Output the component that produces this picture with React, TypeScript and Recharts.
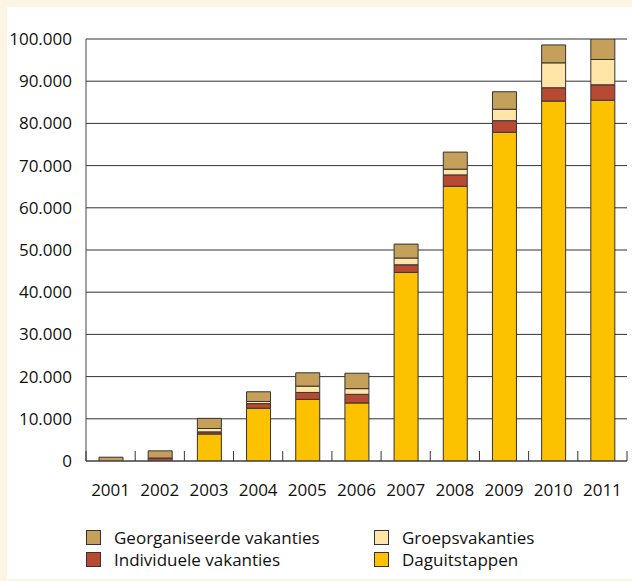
import { Bar, BarChart, CartesianGrid, XAxis, YAxis } from 'recharts';

// categories and series
const years = ['2001', '2002', '2003', '2004', '2005', '2006', '2007', '2008', '2009', '2010', '2011'];
const daguitstappen = [0, 0, 6400, 12500, 14600, 13750, 44700, 65100, 77900, 85300, 85500];
const individueel = [0, 700, 500, 1100, 1650, 2050, 1800, 2700, 2750, 3150, 3650];
const groeps = [0, 0, 800, 500, 1500, 1350, 1600, 1350, 2700, 5900, 6000];
const georganiseerd = [900, 1700, 2400, 2300, 3150, 3650, 3300, 4050, 4150, 4250, 4850];
const yTicks = [0, 10000, 20000, 30000, 40000, 50000, 60000, 70000, 80000, 90000, 100000];

const series = [
  { key: 'dag', name: 'Daguitstappen', color: '#FCC200' },
  { key: 'ind', name: 'Individuele vakanties', color: '#B84A34' },
  { key: 'groep', name: 'Groepsvakanties', color: '#FFE6A8' },
  { key: 'geo', name: 'Georganiseerde vakanties', color: '#C4A05A' },
];

const data = years.map((year, i) => ({
  year,
  dag: daguitstappen[i],
  ind: individueel[i],
  groep: groeps[i],
  geo: georganiseerd[i],
}));

const FONT = '"Open Sans", "Noto Sans", sans-serif';

// 100000 -> 100.000
const fmt = (v: number) => String(v).replace(/\B(?=(\d{3})+(?!\d))/g, '.');

const YearTick = (props: any) => {
  const { x, y, payload, index } = props;
  const off = payload && payload.offset ? payload.offset : 24.6;
  const last = index === years.length - 1;
  return (
    <g>
      <line x1={x - off} x2={x - off} y1={y} y2={y - 10} stroke="#333" strokeWidth={1} />
      {last && <line x1={x + off} x2={x + off} y1={y} y2={y - 10} stroke="#333" strokeWidth={1} />}
      <text x={x} y={y + 35} textAnchor="middle" fontSize={17} fill="#111" fontFamily={FONT}>
        {payload.value}
      </text>
    </g>
  );
};

// legend layout: two rows, two columns
const legendRows = [
  [series[3], series[2]],
  [series[1], series[0]],
];

export default function App() {
  return (
    <div
      style={{
        position: 'absolute',
        left: 0,
        top: 0,
        width: 632,
        height: 581,
        background: '#FDF5E3',
        fontFamily: FONT,
      }}
    >
      <div style={{ position: 'absolute', left: 7, top: 7, width: 625, height: 572, background: '#fff' }} />
      <div style={{ position: 'absolute', left: 0, top: 0 }}>
        <BarChart
          width={632}
          height={581}
          data={data}
          margin={{ top: 39, right: 5, bottom: 0, left: 0 }}
          barSize={24}
        >
          <CartesianGrid vertical={false} stroke="#333" strokeWidth={1} />
          <XAxis
            dataKey="year"
            height={120}
            tickSize={0}
            tickMargin={0}
            axisLine={{ stroke: '#444' }}
            tickLine={false}
            tick={<YearTick />}
            interval={0}
          />
          <YAxis
            width={86}
            domain={[0, 100000]}
            ticks={yTicks}
            allowDataOverflow
            tickFormatter={fmt}
            tickSize={0}
            tickMargin={14}
            tickLine={false}
            axisLine={{ stroke: '#444' }}
            tick={{ fontSize: 17, fill: '#111', fontFamily: FONT }}
          />
          {series.map((s) => (
            <Bar
              key={s.key}
              dataKey={s.key}
              name={s.name}
              stackId="a"
              fill={s.color}
              stroke="#333"
              strokeWidth={1}
              isAnimationActive={false}
            />
          ))}
        </BarChart>
      </div>
      {legendRows.map((row, r) =>
        row.map((s, c) => (
          <div
            key={s.key}
            style={{
              position: 'absolute',
              left: c === 0 ? 86 : 374,
              top: r === 0 ? 530 : 552,
              display: 'flex',
              alignItems: 'center',
              height: 15,
              fontSize: 17,
              color: '#111',
              whiteSpace: 'nowrap',
            }}
          >
            <span
              style={{
                display: 'inline-block',
                width: 13,
                height: 13,
                background: s.color,
                border: '1px solid #333',
                marginRight: 13,
              }}
            />
            {s.name}
          </div>
        ))
      )}
    </div>
  );
}
